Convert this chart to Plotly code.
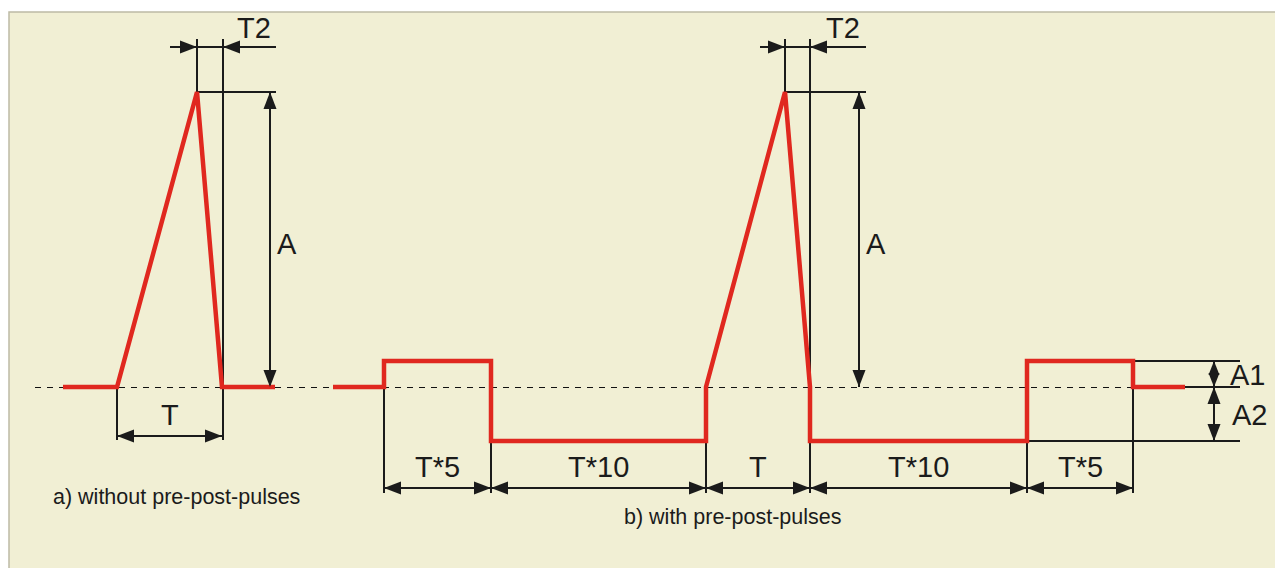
import plotly.graph_objects as go

W, H = 1283, 568
OFF = 8  # page body margin compensation
RED = "#E0281F"
INK = "#1b1b1b"
BG = "#F1EFD4"

# ---- data (diagram coordinates, pixel-like units, y grows downward) ----
baseline_y = 387
peak_y = 92
pre_y = 361
low_y = 441

wave_a_x = [63, 117, 197, 222, 275]
wave_a_y = [387, 387, 92, 387, 387]

wave_b_x = [333, 384, 384, 491, 491, 706, 706, 785, 810, 810, 1027, 1027, 1133, 1133, 1185]
wave_b_y = [387, 387, 361, 361, 441, 441, 387, 92, 387, 441, 441, 361, 361, 387, 387]

# dimension segments for panel b (bottom row)
dim_b_edges = [384, 491, 706, 810, 1027, 1133]
dim_b_labels = ["T*5", "T*10", "T", "T*10", "T*5"]

fig = go.Figure()

shapes = []
# background panel
shapes.append(dict(type="rect", x0=9, y0=12, x1=W + 20, y1=H + 20, fillcolor=BG,
                   line=dict(color="#BDBBA5", width=1.5), layer="below"))
# dashed baseline
shapes.append(dict(type="line", x0=35, x1=1185, y0=baseline_y + 0.5, y1=baseline_y + 0.5,
                   line=dict(color="#111111", width=1.2, dash="6px,6px"), layer="below"))


def seg(x0, y0, x1, y1, w=2):
    shapes.append(dict(type="line", x0=x0, y0=y0, x1=x1, y1=y1,
                       line=dict(color=INK, width=w), layer="below"))


def head(x, y, d, L=17, hw=6.5):
    if d == "r":
        p = f"M {x},{y} L {x-L},{y-hw} L {x-L},{y+hw} Z"
    elif d == "l":
        p = f"M {x},{y} L {x+L},{y-hw} L {x+L},{y+hw} Z"
    elif d == "u":
        p = f"M {x},{y} L {x-hw},{y+L} L {x+hw},{y+L} Z"
    else:
        p = f"M {x},{y} L {x-hw},{y-L} L {x+hw},{y-L} Z"
    shapes.append(dict(type="path", path=p, fillcolor=INK, line=dict(width=0), layer="above"))


def hdim(xa, xb, y):
    seg(xa, y, xb, y)
    head(xa, y, "l")
    head(xb, y, "r")


annotations = []
FONT = "Liberation Sans, Arial"


def label(x, y, t, size=29):
    annotations.append(dict(x=x, y=y, text=t, showarrow=False, xanchor="center", yanchor="middle",
                            font=dict(family=FONT, size=size, color=INK)))


# ---------- panel a ----------
seg(197, 39, 197, 92)
seg(223, 39, 223, 440)
seg(170, 47, 276, 47)
head(197, 47, "r")
head(223, 47, "l")
seg(197, 92, 276, 92)
seg(270, 92, 270, 387)
head(270, 92, "u")
head(270, 387, "d")
seg(117, 387, 117, 440)
hdim(117, 222, 436)
label(254, 28, "T2")
label(287, 244, "A")
label(170, 415, "T")
annotations.append(dict(x=51, y=497, text="a) without pre-post-pulses", showarrow=False,
                        xanchor="left", yanchor="middle",
                        font=dict(family=FONT, size=21.5, color=INK)))

# ---------- panel b ----------
seg(785, 39, 785, 92)
seg(810, 39, 810, 493)
seg(760, 47, 866, 47)
head(785, 47, "r")
head(810, 47, "l")
seg(785, 92, 866, 92)
seg(859, 92, 859, 387)
head(859, 92, "u")
head(859, 387, "d")
label(843, 28, "T2")
label(876, 244, "A")

ext_top = {384: 387, 491: 441, 706: 441, 810: 441, 1027: 441, 1133: 361}
for x in dim_b_edges:
    seg(x, ext_top[x], x, 493)
for i, t in enumerate(dim_b_labels):
    xa, xb = dim_b_edges[i], dim_b_edges[i + 1]
    hdim(xa, xb, 488)
    label((xa + xb) / 2, 467, t)

# A1 / A2
seg(1133, pre_y, 1240, pre_y)
seg(1185, baseline_y, 1240, baseline_y)
seg(1027, low_y, 1240, low_y)
seg(1214, pre_y, 1214, low_y)
head(1214, pre_y, "u", L=14, hw=5.5)
head(1214, baseline_y, "d", L=14, hw=5.5)
head(1214, baseline_y, "u")
head(1214, low_y, "d")
label(1247, 375, "A1")
label(1249, 415, "A2")

annotations.append(dict(x=622, y=517, text="b) with pre-post-pulses", showarrow=False,
                        xanchor="left", yanchor="middle",
                        font=dict(family=FONT, size=21.5, color=INK)))

# ---------- waveforms ----------
fig.add_trace(go.Scatter(x=wave_a_x, y=wave_a_y, mode="lines",
                         line=dict(color=RED, width=4.5), hoverinfo="skip"))
fig.add_trace(go.Scatter(x=wave_b_x, y=wave_b_y, mode="lines",
                         line=dict(color=RED, width=4.5), hoverinfo="skip"))

fig.update_layout(
    width=W, height=H, margin=dict(l=0, r=0, t=0, b=0),
    paper_bgcolor="white", plot_bgcolor="rgba(0,0,0,0)",
    showlegend=False, shapes=shapes, annotations=annotations,
    xaxis=dict(range=[OFF, W + OFF], visible=False, fixedrange=True),
    yaxis=dict(range=[H + OFF, OFF], visible=False, fixedrange=True),
)

fig.write_html("out.html", config={"displayModeBar": False})
